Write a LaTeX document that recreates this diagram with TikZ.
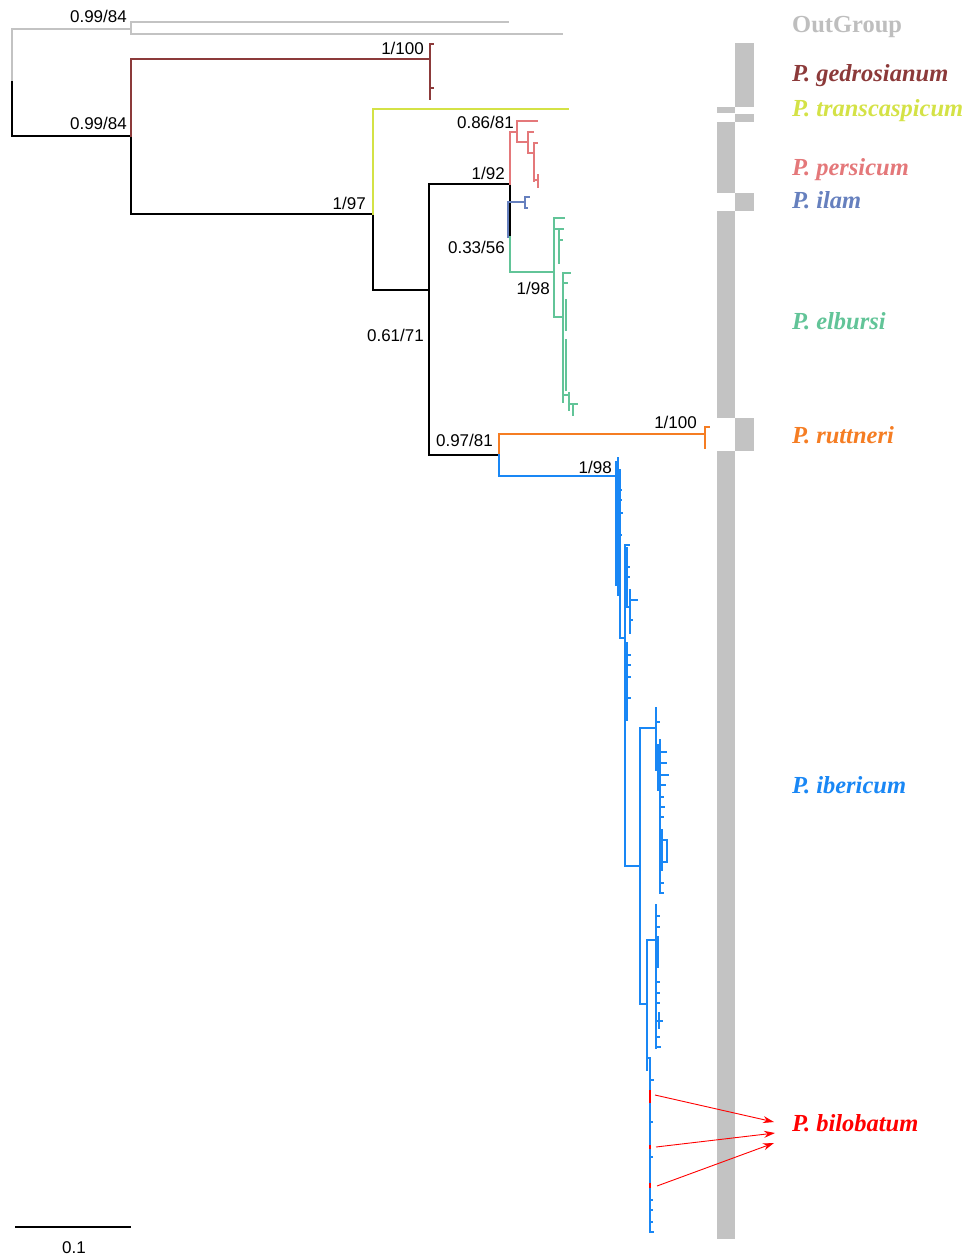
\documentclass[tikz,border=0pt]{standalone}
\usepackage{fontspec}
\setmainfont{Liberation Serif}
\newfontfamily\supfont{Liberation Sans}
\usetikzlibrary{arrows.meta}
\definecolor{og}{RGB}{195,195,195}
\definecolor{ogt}{RGB}{190,190,190}
\definecolor{ged}{RGB}{140,58,58}
\definecolor{tra}{RGB}{212,226,70}
\definecolor{per}{RGB}{228,120,122}
\definecolor{ila}{RGB}{102,128,190}
\definecolor{elb}{RGB}{98,196,152}
\definecolor{rut}{RGB}{245,125,35}
\definecolor{ibe}{RGB}{25,135,245}
\definecolor{barc}{RGB}{195,195,195}
\tikzset{
  br/.style={line width=2pt, line cap=rect},
  sup/.style={font=\supfont\fontsize{17}{20}\selectfont, anchor=base east, inner sep=0pt},
  sp/.style={font=\bfseries\itshape\fontsize{24.5}{28}\selectfont, anchor=base west, inner sep=0pt},
  arr/.style={red, line width=0.9pt, -{Stealth[length=11pt,width=7pt]}},
  barbox/.style={fill=barc, draw=none}
}
\begin{document}
\begin{tikzpicture}[x=1pt,y=-1pt]
\useasboundingbox (0,0) rectangle (975,1257);
% ---- gray bar
\fill[barbox] (735,43) rectangle (754,107);
\fill[barbox] (717,107) rectangle (735,113);
\fill[barbox] (735,114) rectangle (754,122);
\fill[barbox] (717,122) rectangle (735,193);
\fill[barbox] (735,193) rectangle (754,211);
\fill[barbox] (717,211) rectangle (735,418);
\fill[barbox] (735,418) rectangle (754,451);
\fill[barbox] (717,451) rectangle (735,1239);
% ---- outgroup
\draw[br,og] (12,82) -- (12,29) -- (131,29);
\draw[br,og] (508,22) -- (131,22) -- (131,34) -- (562,34);
% ---- black backbone
\draw[br,black] (12,82) -- (12,136) -- (131,136) -- (131,214) -- (373,214) -- (373,290) -- (429,290);
\draw[br,black] (510,184) -- (429,184) -- (429,455) -- (499,455);
\draw[br,black] (510,184) -- (510,237);
% ---- gedrosianum
\draw[br,ged] (131,136) -- (131,59) -- (430,59);
\draw[br,ged] (433,44) -- (430,44) -- (430,99);
\draw[br,ged] (430,88) -- (433,88);
% ---- transcaspicum
\draw[br,tra] (373,214) -- (373,109) -- (568,109);
% ---- persicum
\draw[br,per] (510,184) -- (510,132) -- (517,132);
\draw[br,per] (537,121) -- (517,121) -- (517,142) -- (528,142);
\draw[br,per] (533,132) -- (528,132) -- (528,153) -- (534,153);
\draw[br,per] (537,143) -- (534,143) -- (534,181);
\draw[br,per] (534,180) -- (538,180);
\draw[br,per] (538,175) -- (538,187);
% ---- ilam
\draw[br,ila] (508,202) -- (508,237);
\draw[br,ila] (510,202) -- (525,202);
\draw[br,ila] (529,197) -- (525,197) -- (525,208) -- (527,208);
% ---- elbursi
\draw[br,elb] (510,237) -- (510,272) -- (554,272);
\draw[br,elb] (564,218) -- (554,218) -- (554,317) -- (563,317);
\draw[br,elb] (554,229) -- (563,229);
\draw[br,elb] (559,229) -- (559,263);
\draw[br,elb] (559,240) -- (562,240);
\draw[br,elb] (570,273) -- (563,273) -- (563,402);
\draw[br,elb] (563,283) -- (567,283);
\draw[br,elb] (566,300) -- (566,330);
\draw[br,elb] (566,340) -- (566,390);
\draw[br,elb] (563,395) -- (569,395);
\draw[br,elb] (569,393) -- (569,410);
\draw[br,elb] (569,404) -- (577,404);
\draw[br,elb] (573,404) -- (573,415);
% ---- ruttneri
\draw[br,rut] (499,455) -- (499,434) -- (705,434);
\draw[br,rut] (709,427) -- (705,427) -- (705,448);
% ---- ibericum
\draw[br,ibe] (499,455) -- (499,476) -- (618,476);
\draw[br,ibe] (618,458) -- (618,595);
\draw[br,ibe] (616,462) -- (616,585);
\draw[br,ibe] (618,490) -- (621,490);
\draw[br,ibe] (618,500) -- (621,500);
\draw[br,ibe] (618,513) -- (622,513);
\draw[br,ibe] (618,535) -- (621,535);
\draw[br,ibe] (620,470) -- (620,638) -- (625,638);
\draw[br,ibe] (629,545) -- (625,545) -- (625,866) -- (640,866);
\draw[br,ibe] (627,548) -- (627,607) -- (630,607);
\draw[br,ibe] (627,567) -- (629,567);
\draw[br,ibe] (627,577) -- (629,577);
\draw[br,ibe] (630,590) -- (630,633);
\draw[br,ibe] (630,600) -- (637,600);
\draw[br,ibe] (630,620) -- (632,620);
\draw[br,ibe] (627,643) -- (627,720);
\draw[br,ibe] (627,655) -- (630,655);
\draw[br,ibe] (627,665) -- (630,665);
\draw[br,ibe] (627,677) -- (630,677);
\draw[br,ibe] (627,698) -- (630,698);
% clade C
\draw[br,ibe] (640,1004) -- (640,728) -- (656,728);
\draw[br,ibe] (656,708) -- (656,770);
\draw[br,ibe] (656,722) -- (659,722);
\draw[br,ibe] (656,750) -- (660,750);
\draw[br,ibe] (658,745) -- (658,790);
\draw[br,ibe] (660,740) -- (660,893);
\draw[br,ibe] (660,752) -- (666,752);
\draw[br,ibe] (660,763) -- (666,763);
\draw[br,ibe] (660,775) -- (668,775);
\draw[br,ibe] (660,785) -- (665,785);
\draw[br,ibe] (660,797) -- (663,797);
\draw[br,ibe] (660,807) -- (664,807);
\draw[br,ibe] (660,817) -- (663,817);
\draw[br,ibe] (662,830) -- (662,870);
\draw[br,ibe] (660,840) -- (667,840) -- (667,862) -- (660,862);
\draw[br,ibe] (660,883) -- (663,883);
\draw[br,ibe] (660,893) -- (663,893);
% clade D
\draw[br,ibe] (640,1004) -- (647,1004);
\draw[br,ibe] (656,940) -- (647,940) -- (647,1070);
\draw[br,ibe] (656,905) -- (656,1048);
\draw[br,ibe] (658,937) -- (658,967);
\draw[br,ibe] (656,916) -- (659,916);
\draw[br,ibe] (656,927) -- (659,927);
\draw[br,ibe] (656,982) -- (659,982);
\draw[br,ibe] (656,993) -- (659,993);
\draw[br,ibe] (656,1003) -- (659,1003);
\draw[br,ibe] (659,1013) -- (659,1028);
\draw[br,ibe] (656,1021) -- (662,1021);
\draw[br,ibe] (656,1037) -- (659,1037);
\draw[br,ibe] (656,1047) -- (660,1047);
% bottom ladder
\draw[br,ibe] (647,1058) -- (650,1058) -- (650,1232) -- (653,1232);
\draw[br,ibe] (650,1080) -- (653,1080);
\draw[br,ibe] (650,1122) -- (652,1122);
\draw[br,ibe] (650,1157) -- (652,1157);
\draw[br,ibe] (650,1200) -- (652,1200);
\draw[br,ibe] (650,1210) -- (652,1210);
\draw[br,ibe] (650,1222) -- (652,1222);
% bilobatum samples
\draw[line width=2.2pt,red] (650,1090) -- (650,1103);
\draw[line width=2.2pt,red] (650,1145) -- (650,1149);
\draw[line width=2.2pt,red] (650,1183) -- (650,1188);
% ---- support values
\node[sup] (s1) at (127,23) {0.99/84};
\node[sup] (s2) at (127,130) {0.99/84};
\node[sup] (s3) at (424,55) {1/100};
\node[sup] (s4) at (366,210) {1/97};
\node[sup] (s5) at (514,129) {0.86/81};
\node[sup] (s6) at (505,180) {1/92};
\node[sup] (s7) at (505,254) {0.33/56};
\node[sup] (s8) at (550,294) {1/98};
\node[sup] (s9) at (424,341) {0.61/71};
\node[sup] (s10) at (493,446) {0.97/81};
\node[sup] (s11) at (697,428) {1/100};
\node[sup] (s12) at (612,473) {1/98};
% ---- species labels
\node[sp, font=\bfseries\fontsize{24.5}{28}\selectfont, text=ogt] (lout) at (792,33) {OutGroup};
\node[sp, text=ged] (lged) at (792,81.7) {P. gedrosianum};
\node[sp, text=tra] (ltra) at (792,116.7) {P. transcaspicum};
\node[sp, text=per] (lper) at (792,176) {P. persicum};
\node[sp, text=ila] (lila) at (792,209) {P. ilam};
\node[sp, text=elb] (lelb) at (792,329) {P. elbursi};
\node[sp, text=rut] (lrut) at (792,443) {P. ruttneri};
\node[sp, text=ibe] (libe) at (792,793) {P. ibericum};
\node[sp, text=red] (lbil) at (792,1131.7) {P. bilobatum};
% ---- arrows
\coordinate (b1) at (655,1095);
\coordinate (b2) at (656,1147);
\coordinate (b3) at (657,1186);
\coordinate (e1) at (774,1122);
\coordinate (e2) at (775,1133);
\coordinate (e3) at (774,1143);
\draw[arr] (b1) -- (e1);
\draw[arr] (b2) -- (e2);
\draw[arr] (b3) -- (e3);
% ---- scale bar
\draw[line width=2pt] (15,1227) coordinate (sc1) -- (131,1227) coordinate (sc2);
\node[font=\supfont\fontsize{17}{20}\selectfont, anchor=base, inner sep=0pt] (sct) at (74,1253) {0.1};
\end{tikzpicture}
\end{document}
